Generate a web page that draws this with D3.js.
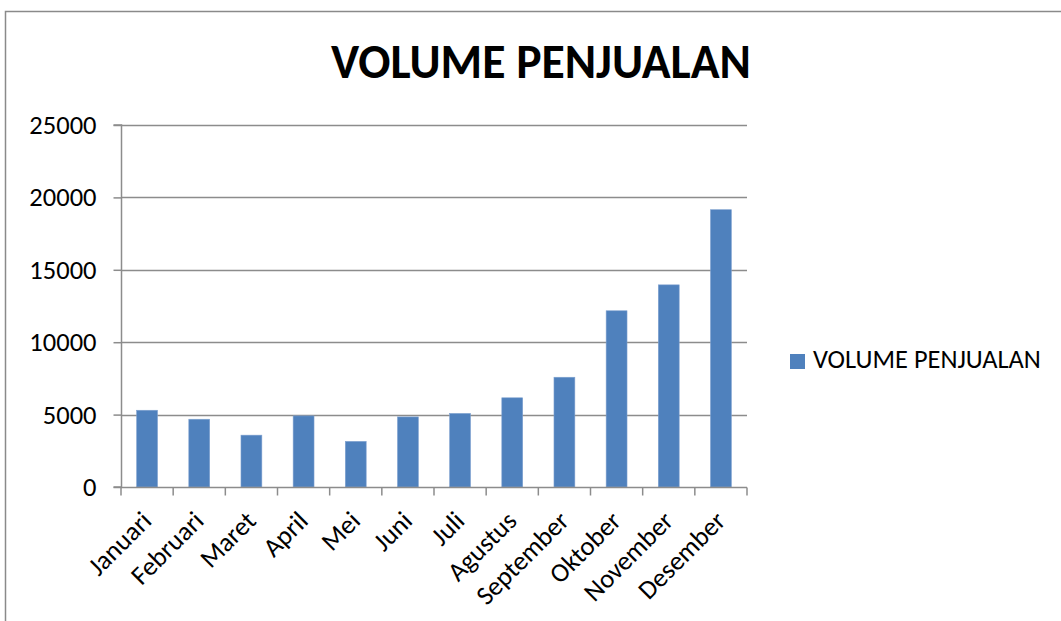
<!DOCTYPE html>
<html>
<head>
<meta charset="utf-8">
<script src="https://cdn.jsdelivr.net/npm/d3@7"></script>
<style>
  body { margin: 0; background: #fff; }
  svg { display: block; font-family: Carlito, Calibri, "Open Sans", sans-serif; }
</style>
</head>
<body>
<svg id="chart"></svg>
<script>
let months = ['Januari', 'Februari', 'Maret', 'April', 'Mei', 'Juni', 'Juli', 'Agustus', 'September', 'Oktober', 'November', 'Desember'];
let volume = [5300, 4680, 3580, 4910, 3150, 4840, 5080, 6160, 7580, 12170, 13960, 19150];
let yTicks = [0, 5000, 10000, 15000, 20000, 25000];
let seriesName = 'VOLUME PENJUALAN';
let titleText = 'VOLUME PENJUALAN';

let w = 1061;
let h = 621;
let barColor = '#4f81bd';
let gridColor = '#8c8c8c';
let fontStack = 'Carlito, Calibri, "Open Sans", sans-serif';

let svg = d3.select('#chart').attr('width', w).attr('height', h);

// chart frame (runs off the right and bottom edge like the source)
svg.append('rect')
    .attr('x', 5.5).attr('y', 11.5)
    .attr('width', w + 20).attr('height', h + 20)
    .attr('fill', 'none')
    .attr('stroke', '#8a8a8a')
    .attr('stroke-width', 1.5);

let xScale = d3.scaleBand()
    .domain(months)
    .range([121, 747])
    .paddingInner(0.6)
    .paddingOuter(0.3);

let yScale = d3.scaleLinear()
    .domain([0, 25000])
    .range([487, 125]);

// gridlines
svg.append('g')
    .selectAll('line')
    .data(yTicks.filter(d => d > 0))
    .enter()
    .append('line')
    .attr('x1', 121).attr('x2', 747)
    .attr('y1', d => Math.round(yScale(d)) + 0.5)
    .attr('y2', d => Math.round(yScale(d)) + 0.5)
    .attr('stroke', gridColor)
    .attr('stroke-width', 1.5);

// bars
svg.append('g')
    .selectAll('rect')
    .data(volume)
    .enter()
    .append('rect')
    .attr('x', (d, i) => xScale(months[i]))
    .attr('y', d => yScale(d))
    .attr('width', xScale.bandwidth())
    .attr('height', d => yScale(0) - yScale(d))
    .attr('fill', barColor)
    .attr('stroke', '#7ea1cf')
    .attr('stroke-width', 0.6);

// y axis
let yAxis = d3.axisLeft(yScale)
    .tickValues(yTicks)
    .tickSize(8)
    .tickPadding(17)
    .tickFormat(d3.format('d'));

let yG = svg.append('g')
    .attr('transform', 'translate(121.5, 0)')
    .call(yAxis)
    .attr('font-family', fontStack);
yG.select('.domain').attr('stroke', gridColor).attr('stroke-width', 1.5).attr('d', 'M-8,' + yScale(25000) + 'H0V' + yScale(0) + 'H-8');
yG.selectAll('.tick line').attr('stroke', gridColor).attr('stroke-width', 1.5);
yG.selectAll('.tick text')
    .attr('fill', '#000')
    .attr('font-size', 26.5);

// x axis: ticks sit on category boundaries
let xAxis = d3.axisBottom(xScale).tickSize(0).tickFormat('');
let xG = svg.append('g')
    .attr('transform', 'translate(0, ' + (yScale(0) + 0.5) + ')')
    .call(xAxis)
    .attr('font-family', fontStack);
xG.select('.domain').attr('stroke', gridColor).attr('stroke-width', 1.5).attr('d', 'M121,0H747');

let step = xScale.step();
let bounds = d3.range(months.length + 1).map(i => 121 + i * step);
xG.selectAll('.bound')
    .data(bounds)
    .enter()
    .append('line')
    .attr('class', 'bound')
    .attr('x1', d => d).attr('x2', d => d)
    .attr('y1', 0).attr('y2', 8)
    .attr('stroke', gridColor)
    .attr('stroke-width', 1.5);

xG.selectAll('.mlabel')
    .data(months)
    .enter()
    .append('text')
    .attr('class', 'mlabel')
    .attr('transform', d => 'translate(' + (xScale(d) + xScale.bandwidth() / 2 + 6) + ', 35) rotate(-45)')
    .attr('text-anchor', 'end')
    .attr('font-size', 26.5)
    .attr('fill', '#000')
    .text(d => d);

// title
let title = svg.append('text')
    .attr('x', 541)
    .attr('y', 78)
    .attr('text-anchor', 'middle')
    .attr('font-weight', 'bold')
    .attr('font-size', 40)
    .attr('fill', '#000')
    .text(titleText);
let tw = title.node().getComputedTextLength();
title.attr('font-size', 40 * 420 / tw);

// legend
let legend = svg.append('g').attr('transform', 'translate(790, 354)');
legend.append('rect')
    .attr('width', 15).attr('height', 15)
    .attr('fill', barColor);
let lt = legend.append('text')
    .attr('x', 23)
    .attr('y', 13.5)
    .attr('font-size', 22)
    .attr('fill', '#000')
    .text(seriesName);
let lw = lt.node().getComputedTextLength();
lt.attr('font-size', 22 * 228 / lw);
</script>
</body>
</html>
